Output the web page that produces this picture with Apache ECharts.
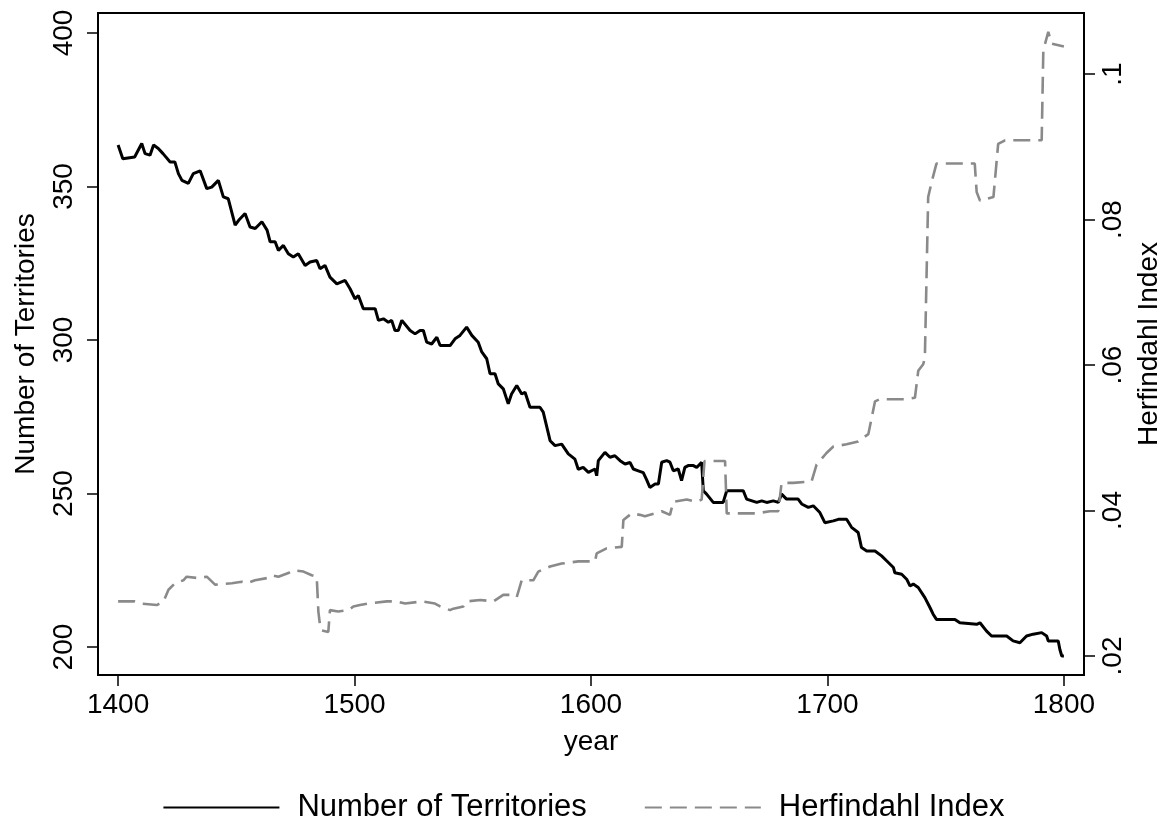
<!DOCTYPE html>
<html>
<head>
<meta charset="utf-8">
<script src="https://cdn.jsdelivr.net/npm/echarts@6/dist/echarts.min.js"></script>
<style>
  html, body { margin: 0; padding: 0; background: #fff; }
  #main { width: 1167px; height: 823px; }
</style>
</head>
<body>
<div id="main"></div>
<script>
// tick labels
var xTicks = [1400, 1500, 1600, 1700, 1800];
var leftTicks = [200, 250, 300, 350, 400];
var rightTicks = [0.02, 0.04, 0.06, 0.08, 0.1];

// Number of Territories
var terrYears = [1400, 1402, 1407, 1410, 1411.4, 1413.5, 1415, 1417, 1419, 1422, 1424, 1425.5, 1427, 1429.7, 1431.8,
  1434.7, 1437.5, 1439.6, 1442.4, 1444.5, 1446.6, 1449.5, 1451, 1453.7, 1455.8, 1458, 1460.8, 1463, 1464.3, 1466.4,
  1467.8, 1469.9, 1472, 1474.1, 1476.2, 1479.1, 1481.2, 1484, 1485.4, 1487.5, 1489.6, 1492.5, 1496, 1498.1, 1500.2,
  1501.6, 1503.7, 1508.7, 1510.1, 1512.2, 1514.3, 1515.7, 1517.1, 1518.5, 1520, 1523.5, 1525.6, 1527.7, 1529.1, 1530.5,
  1532.6, 1534.8, 1536.2, 1540.4, 1542.5, 1544.6, 1547.4, 1549.6, 1552.3, 1553.8, 1555.9, 1557.3, 1559.4, 1560.8, 1562.9,
  1565, 1566.4, 1568.6, 1570.7, 1572.1, 1574.2, 1578.4, 1579.8, 1582.7, 1584.8, 1587.6, 1590.4, 1593.2, 1594.6, 1596.7,
  1598.9, 1601.7, 1602.4, 1603.1, 1605.9, 1608, 1610.1, 1612.3, 1614.4, 1616.5, 1617.9, 1620, 1622.1, 1623.5, 1624.9,
  1627.1, 1628.5, 1629.9, 1632, 1633.4, 1634.8, 1636.9, 1638.3, 1639.7, 1641.1, 1643.3, 1644.7, 1646.8, 1647.5, 1648.9,
  1651.7, 1655.9, 1657.4, 1664.4, 1665.8, 1670.1, 1672.2, 1674.3, 1677.1, 1679.2, 1680.6, 1682.7, 1687.6, 1689.1, 1691.9,
  1694, 1696.8, 1698.9, 1702.5, 1704.6, 1708.1, 1710.2, 1713, 1714.4, 1716.6, 1720.1, 1722.9, 1725, 1727.9, 1728.5,
  1731.4, 1733.5, 1734.9, 1736.3, 1738.4, 1741.2, 1743.4, 1744.7, 1746.1, 1753.9, 1756, 1763.1, 1764.5, 1767.3, 1769.4,
  1775.8, 1778.5, 1781.4, 1784.2, 1787, 1790.6, 1792.7, 1793.4, 1797.6, 1798.3, 1799.1, 1800];
var terrCount = [363.5, 359, 359.6, 364, 360.7, 360.2, 363.5, 362.4, 360.7, 358, 358, 354.2, 352, 351, 354.2,
  355.1, 349.3, 349.8, 352, 346.6, 346, 337.4, 339, 341.2, 336.8, 336.3, 338.5, 335.8, 332, 332,
  329.2, 330.8, 328.1, 327, 328.1, 324.3, 325.4, 325.9, 323.2, 324.3, 320.5, 318.3, 319.4, 316.7, 313.4,
  314.5, 310.2, 310.2, 306.4, 306.9, 305.8, 306.4, 303.1, 303.1, 306.4, 303.1, 302, 303.1, 303.1, 299.3,
  298.7, 300.9, 298.2, 298.2, 300.4, 301.5, 304.2, 301.5, 299.3, 296.1, 293.9, 289, 289, 285.7, 284.1,
  279.2, 282.4, 285.2, 282.4, 283, 278.1, 278.1, 276.5, 267.2, 265.6, 266.1, 262.9, 261.2, 257.9, 258.5,
  256.9, 258, 255.8, 260.7, 263.4, 261.8, 262.3, 260.7, 259.6, 260.1, 258, 257.4, 256.8, 254.5, 252,
  253.1, 253.1, 260.2, 260.7, 260.2, 257.4, 258, 254.2, 258.5, 259.1, 259.1, 258.5, 260.2, 250.9, 249.8,
  247.1, 247.1, 250.9, 250.9, 248.2, 247.1, 247.6, 247.1, 247.6, 247.1, 249.8, 248.2, 248.2, 246.6, 245.5,
  246, 243.8, 240.5, 241.1, 241.6, 241.6, 239, 237.3, 232.4, 231.3, 231.3, 229.7, 228.1, 225.9, 224.2,
  223.7, 222.1, 219.9, 220.5, 219.4, 216.1, 212.8, 210.7, 209, 209, 207.9, 207.4, 207.9, 205.2, 203.6,
  203.6, 202, 201.4, 203.6, 204.2, 204.7, 203.6, 202, 202, 199.2, 197.1, 197.1];

// Herfindahl Index
var herfYears = [1400, 1407, 1410, 1416.4, 1419.2, 1421.3, 1424.1, 1427.6, 1429, 1434, 1437.5, 1441, 1448.1, 1452.3,
  1454.4, 1457.9, 1462.9, 1465, 1467.8, 1472, 1474.1, 1478.4, 1481.9, 1484, 1484.7, 1485.4, 1486.1, 1488.9, 1489.6,
  1493.1, 1497.4, 1499.5, 1502.3, 1505.8, 1513.6, 1517.8, 1521.4, 1528.4, 1534, 1536.2, 1540.4, 1541.8, 1546, 1547.4,
  1553.1, 1558.7, 1562.9, 1567.1, 1568.6, 1570.7, 1575.6, 1577.7, 1582.7, 1587.6, 1594.6, 1601.7, 1602.4, 1606.6, 1613,
  1613.7, 1617.2, 1620.7, 1622.8, 1627.1, 1629.9, 1633.4, 1634.8, 1640.5, 1644.7, 1646.8, 1647.3, 1648, 1656.7, 1657.4,
  1670.1, 1675.7, 1679.2, 1680.6, 1685.5, 1693.3, 1695.4, 1699.6, 1702.5, 1708.1, 1713, 1717.3, 1720.1, 1722.2, 1733.5,
  1737, 1738.4, 1740.5, 1741.2, 1742.6, 1744.1, 1746.1, 1762.3, 1763.1, 1764.5, 1770.2, 1772.2, 1775.1, 1790.6, 1791.3,
  1793.4, 1794.8, 1800];
var herfIndex = [0.0275, 0.0275, 0.0272, 0.0270, 0.0275, 0.0291, 0.0300, 0.0304, 0.0309, 0.0307, 0.0309, 0.0298, 0.0300, 0.0302,
  0.0300, 0.0304, 0.0307, 0.0311, 0.0309, 0.0314, 0.0318, 0.0316, 0.0311, 0.0309, 0.0261, 0.0242, 0.0235, 0.0233, 0.0263,
  0.0261, 0.0263, 0.0268, 0.0270, 0.0272, 0.0275, 0.0275, 0.0272, 0.0275, 0.0272, 0.0268, 0.0263, 0.0265, 0.0268, 0.0275,
  0.0277, 0.0275, 0.0284, 0.0284, 0.0281, 0.0304, 0.0304, 0.0316, 0.0323, 0.0327, 0.0330, 0.0330, 0.0341, 0.0348, 0.0350,
  0.0387, 0.0396, 0.0394, 0.0392, 0.0396, 0.0399, 0.0394, 0.0412, 0.0415, 0.0412, 0.0415, 0.0415, 0.0468, 0.0468, 0.0396,
  0.0396, 0.0399, 0.0399, 0.0438, 0.0438, 0.0440, 0.0463, 0.0479, 0.0488, 0.0491, 0.0495, 0.0505, 0.0550, 0.0553, 0.0553,
  0.0555, 0.0592, 0.0601, 0.0610, 0.0831, 0.0852, 0.0877, 0.0877, 0.0838, 0.0826, 0.0831, 0.0904, 0.0909, 0.0909, 0.1033,
  0.1058, 0.1042, 0.1038];

var FONT = 'Liberation Sans, Arial, sans-serif';

function pairs(xs, ys) {
  return xs.map(function (x, i) { return [x, ys[i]]; });
}

var chart = echarts.init(document.getElementById('main'), null, { renderer: 'canvas' });

var axisText = { color: '#000', fontSize: 28, fontFamily: FONT };

var option = {
  backgroundColor: '#fff',
  animation: false,
  grid: {
    left: 98, right: 83, top: 13, bottom: 148,
    show: true, borderColor: '#000', borderWidth: 2,
    containLabel: false, outerBoundsMode: 'none'
  },
  legend: {
    top: 787,
    left: 'center',
    itemWidth: 116,
    itemHeight: 20,
    itemGap: 57,
    itemStyle: { opacity: 0 },
    textStyle: { color: '#000', fontSize: 31, fontFamily: FONT, padding: [0, 0, 0, 13] },
    data: ['Number of Territories', 'Herfindahl Index']
  },
  xAxis: {
    type: 'value',
    min: 1391.5,
    max: 1808.5,
    name: 'year',
    nameLocation: 'middle',
    nameGap: 53,
    nameTextStyle: axisText,
    axisLine: { show: true, lineStyle: { color: '#000', width: 2 } },
    axisTick: { show: true, inside: false, length: 11, customValues: xTicks, lineStyle: { color: '#000', width: 1.5 } },
    axisLabel: {
      customValues: xTicks, margin: 16, color: '#000', fontSize: 28, fontFamily: FONT,
      formatter: function (v) { return String(v); }
    },
    splitLine: { show: false }
  },
  yAxis: [{
    type: 'value',
    position: 'left',
    min: 190.9,
    max: 406.5,
    name: 'Number of Territories',
    nameLocation: 'middle',
    nameRotate: 90,
    nameGap: 58,
    nameTextStyle: axisText,
    axisLine: { show: true, lineStyle: { color: '#000', width: 2 } },
    axisTick: { show: true, inside: false, length: 11, customValues: leftTicks, lineStyle: { color: '#000', width: 1.5 } },
    axisLabel: {
      customValues: leftTicks, rotate: 90, margin: 20, color: '#000', fontSize: 28, fontFamily: FONT,
      formatter: function (v) { return String(v); }
    },
    splitLine: { show: false }
  }, {
    type: 'value',
    position: 'right',
    min: 0.01738,
    max: 0.1084,
    name: 'Herfindahl Index',
    nameLocation: 'middle',
    nameRotate: 90,
    nameGap: 50,
    nameTextStyle: axisText,
    axisLine: { show: true, lineStyle: { color: '#000', width: 2 } },
    axisTick: { show: true, inside: false, length: 11, customValues: rightTicks, lineStyle: { color: '#000', width: 1.5 } },
    axisLabel: {
      customValues: rightTicks, rotate: 90, margin: 15, color: '#000', fontSize: 28, fontFamily: FONT,
      formatter: function (v) { return String(+v.toFixed(2)).replace(/^0/, ''); }
    },
    splitLine: { show: false }
  }],
  series: [{
    name: 'Number of Territories',
    type: 'line',
    yAxisIndex: 0,
    symbol: 'none',
    color: '#000',
    lineStyle: { color: '#000', width: 3 },
    data: pairs(terrYears, terrCount)
  }, {
    name: 'Herfindahl Index',
    type: 'line',
    yAxisIndex: 1,
    symbol: 'none',
    color: '#8a8a8a',
    lineStyle: { color: '#8a8a8a', width: 2.6, type: [17, 8] },
    data: pairs(herfYears, herfIndex)
  }]
};

chart.setOption(option);
</script>
</body>
</html>
